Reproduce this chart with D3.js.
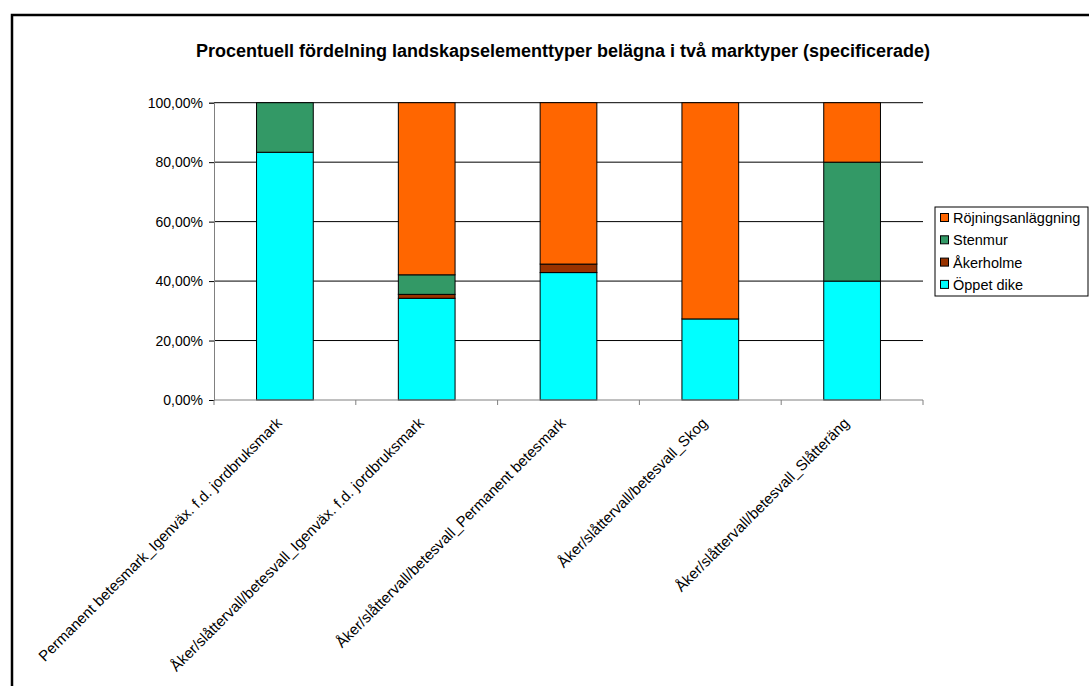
<!DOCTYPE html>
<html>
<head>
<meta charset="utf-8">
<script src="https://cdn.jsdelivr.net/npm/d3@7"></script>
<style>
  html, body { margin: 0; padding: 0; background: #fff; }
  svg { display: block; font-family: "Liberation Sans", Arial, sans-serif; }
</style>
</head>
<body>
<svg id="chart" width="1089" height="686"></svg>
<script>
// Land-use combinations (x categories)
const categories = [
  "Permanent betesmark_Igenväx. f.d. jordbruksmark",
  "Åker/slåttervall/betesvall_Igenväx. f.d. jordbruksmark",
  "Åker/slåttervall/betesvall_Permanent betesmark",
  "Åker/slåttervall/betesvall_Skog",
  "Åker/slåttervall/betesvall_Slåtteräng"
];

// Share (%) of each landscape element type, stacked bottom to top
const seriesNames = ["Öppet dike", "Åkerholme", "Stenmur", "Röjningsanläggning"];
const oppetDike = [83.33, 34.21, 42.86, 27.27, 40.00];
const akerholme = [0, 1.32, 2.86, 0, 0];
const stenmur = [16.67, 6.58, 0, 0, 40.00];
const rojningsanlaggning = [0, 57.89, 54.29, 72.73, 20.00];
const seriesColors = ["#00FFFF", "#993300", "#339966", "#FF6600"];

const yTicks = [0, 20, 40, 60, 80, 100];
const title = "Procentuell fördelning landskapselementtyper belägna i två marktyper (specificerade)";

const seriesValues = [oppetDike, akerholme, stenmur, rojningsanlaggning];
const rows = categories.map((c, i) => {
  const r = { category: c };
  seriesNames.forEach((s, k) => { r[s] = seriesValues[k][i]; });
  return r;
});

const svg = d3.select("#chart");
const plot = { left: 214, right: 923, top: 102.7, bottom: 400 };

// outer chart frame
svg.append("rect")
  .attr("x", 12).attr("y", 15)
  .attr("width", 1100).attr("height", 700)
  .attr("fill", "none").attr("stroke", "#000").attr("stroke-width", 2.5);

svg.append("text")
  .attr("x", 563).attr("y", 57)
  .attr("text-anchor", "middle")
  .attr("font-size", 18).attr("font-weight", "bold")
  .text(title);

const x = d3.scaleBand()
  .domain(categories)
  .range([plot.left, plot.right])
  .paddingInner(0.6).paddingOuter(0.3);

const y = d3.scaleLinear().domain([0, 100]).range([plot.bottom, plot.top]);

// gridlines
svg.append("g").selectAll("line")
  .data(yTicks.filter(t => t > 0))
  .join("line")
  .attr("x1", plot.left).attr("x2", plot.right)
  .attr("y1", d => y(d)).attr("y2", d => y(d))
  .attr("stroke", "#000").attr("stroke-width", 1);

// stacked bars
const stack = d3.stack().keys(seriesNames)(rows);
svg.append("g").selectAll("g")
  .data(stack)
  .join("g")
  .attr("fill", (d, i) => seriesColors[i])
  .selectAll("rect")
  .data(d => d.filter(v => v[1] - v[0] > 0))
  .join("rect")
  .attr("x", d => x(d.data.category))
  .attr("width", x.bandwidth())
  .attr("y", d => y(d[1]))
  .attr("height", d => y(d[0]) - y(d[1]))
  .attr("stroke", "#000").attr("stroke-width", 1);

// y axis
const yAxis = d3.axisLeft(y)
  .tickValues(yTicks)
  .tickSize(5)
  .tickPadding(6)
  .tickFormat(d => d3.format(".2f")(d).replace(".", ",") + "%");
const gy = svg.append("g").attr("transform", `translate(${plot.left},0)`).call(yAxis);
gy.select(".domain").attr("stroke", "#808080");
gy.selectAll(".tick line").attr("stroke", "#000");
gy.selectAll(".tick text").attr("font-size", 14).attr("font-family", "Liberation Sans, Arial, sans-serif").attr("fill", "#000");

// x axis: ticks at category boundaries
const step = x.step();
const boundaries = d3.range(categories.length + 1).map(i => plot.left + i * step);
const gx = svg.append("g");
gx.append("line")
  .attr("x1", plot.left).attr("x2", plot.right)
  .attr("y1", plot.bottom).attr("y2", plot.bottom)
  .attr("stroke", "#808080");
gx.selectAll("line.tk")
  .data(boundaries)
  .join("line").attr("class", "tk")
  .attr("x1", d => d).attr("x2", d => d)
  .attr("y1", plot.bottom).attr("y2", plot.bottom + 5)
  .attr("stroke", "#808080");
gx.selectAll("text")
  .data(categories)
  .join("text")
  .attr("transform", d => `translate(${x(d) + x.bandwidth() / 2 - 2},${plot.bottom + 24}) rotate(-45)`)
  .attr("text-anchor", "end")
  .attr("font-size", 15)
  .text(d => d);

// legend
const legend = svg.append("g");
legend.append("rect")
  .attr("x", 935).attr("y", 207)
  .attr("width", 153).attr("height", 89)
  .attr("fill", "#fff").attr("stroke", "#000").attr("stroke-width", 1);
const legendOrder = seriesNames.map((s, i) => ({ name: s, color: seriesColors[i] })).reverse();
const li = legend.selectAll("g.item")
  .data(legendOrder)
  .join("g").attr("class", "item")
  .attr("transform", (d, i) => `translate(940,${218 + i * 22.3})`);
li.append("rect")
  .attr("x", 0.5).attr("y", -4.5)
  .attr("width", 8).attr("height", 8)
  .attr("fill", d => d.color).attr("stroke", "#000");
li.append("text")
  .attr("x", 13).attr("y", 5)
  .attr("font-size", 14.5)
  .text(d => d.name);
</script>
</body>
</html>
